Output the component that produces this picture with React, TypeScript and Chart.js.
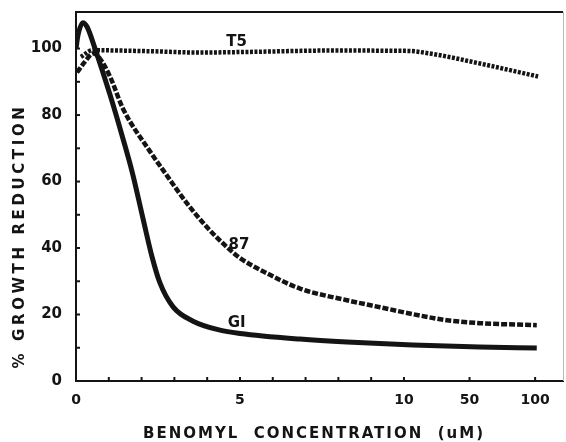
import React, { useEffect, useRef } from 'react';
import { Chart, registerables } from 'chart.js';
Chart.register(...registerables);

// x values are axis positions: 0..10 uM linear, then 50 uM at 12 and 100 uM at 14 (broken axis)
const xTickPos = [0, 1, 2, 3, 4, 5, 6, 7, 8, 9, 10, 12, 14];
const xTickLabels = ['0', '', '', '', '', '5', '', '', '', '', '10', '50', '100'];
const yTickValues = [0, 10, 20, 30, 40, 50, 60, 70, 80, 90, 100];
const yTickLabels = ['0', '', '20', '', '40', '', '60', '', '80', '', '100'];

const giX = [0, 0.06, 0.21, 0.34, 0.58, 1.04, 1.4, 1.71, 2.04, 2.32, 2.56, 2.96, 3.57, 4.39, 5.0, 6.83, 8.26, 10.27, 12.3, 14.05];
const giY = [100, 104, 107.8, 106.5, 100, 86, 74, 63, 49, 37.3, 29.5, 22.3, 18.0, 15.3, 14.3, 12.6, 11.7, 10.8, 10.2, 9.9];

const s87X = [0.03, 0.27, 0.52, 0.73, 1.04, 1.43, 2.26, 2.65, 3.38, 3.99, 4.6, 5.0, 5.82, 6.83, 8.26, 9.27, 10.27, 11.31, 12.32, 14.05];
const s87Y = [92.8, 96, 98.5, 97, 91.5, 82, 69, 63.5, 53.5, 46.3, 40.3, 37, 32.4, 27.8, 24.3, 22.2, 20.1, 18.3, 17.4, 16.8];

const t5X = [0.15, 0.5, 2.26, 3.78, 5.3, 7.74, 10.1, 10.8, 12.32, 14.09];
const t5Y = [97.5, 99.5, 99.2, 98.8, 99.0, 99.4, 99.3, 98.5, 95.5, 91.6];

const curveLabels = ['GI', '87', 'T5'];
const curveLabelX = [4.9, 4.97, 4.9];
const curveLabelY = [17.4, 40.9, 102];

const xTitle = 'BENOMYL  CONCENTRATION  (uM)';
const yTitle = '% GROWTH REDUCTION';

const INK = '#141414';
const FONT = '"DejaVu Sans", "Liberation Sans", sans-serif';

function pts(xs: number[], ys: number[]) {
  return xs.map((x, i) => ({ x, y: ys[i] }));
}

const decorPlugin = {
  id: 'decor',
  afterDraw(chart: any) {
    const { ctx, chartArea: a, scales } = chart;
    const xs = scales.x;
    const ys = scales.y;
    ctx.save();
    // top border
    ctx.strokeStyle = INK;
    ctx.lineWidth = 2;
    ctx.beginPath();
    ctx.moveTo(a.left, a.top);
    ctx.lineTo(a.right, a.top);
    ctx.stroke();
    // faint right border
    ctx.strokeStyle = '#b8b8b8';
    ctx.lineWidth = 1;
    ctx.beginPath();
    ctx.moveTo(a.right + 0.5, a.top);
    ctx.lineTo(a.right + 0.5, a.bottom);
    ctx.stroke();
    // inside ticks
    ctx.strokeStyle = INK;
    ctx.lineWidth = 2;
    xTickPos.forEach((v) => {
      if (v === 0) return;
      const px = xs.getPixelForValue(v);
      ctx.beginPath();
      ctx.moveTo(px, a.bottom);
      ctx.lineTo(px, a.bottom - 4);
      ctx.stroke();
    });
    yTickValues.forEach((v) => {
      if (v === 0) return;
      const py = ys.getPixelForValue(v);
      ctx.beginPath();
      ctx.moveTo(a.left - 1, py);
      ctx.lineTo(a.left + 4, py);
      ctx.stroke();
    });
    // curve labels
    ctx.fillStyle = INK;
    ctx.font = 'bold 15px ' + FONT;
    ctx.textAlign = 'center';
    ctx.textBaseline = 'middle';
    curveLabels.forEach((t, i) => {
      ctx.fillText(t, xs.getPixelForValue(curveLabelX[i]), ys.getPixelForValue(curveLabelY[i]));
    });
    // axis titles
    ctx.font = 'bold 15px ' + FONT;
    (ctx as any).letterSpacing = '2px';
    ctx.fillText(xTitle, 314, 434);
    (ctx as any).letterSpacing = '3.6px';
    ctx.translate(20, 236);
    ctx.rotate(-Math.PI / 2);
    ctx.fillText(yTitle, 0, 0);
    ctx.restore();
  },
};

export default function App() {
  const ref = useRef<HTMLCanvasElement>(null);
  useEffect(() => {
    const canvas = ref.current!;
    const chart = new Chart(canvas, {
      type: 'line',
      data: {
        datasets: [
          {
            label: 'GI',
            data: pts(giX, giY),
            borderColor: INK,
            borderWidth: 5,
            pointRadius: 0,
            cubicInterpolationMode: 'monotone',
          },
          {
            label: '87',
            data: pts(s87X, s87Y),
            borderColor: INK,
            borderWidth: 4.5,
            borderDash: [6, 2],
            borderCapStyle: 'butt',
            pointRadius: 0,
            cubicInterpolationMode: 'monotone',
          },
          {
            label: 'T5',
            data: pts(t5X, t5Y),
            borderColor: INK,
            borderWidth: 4.5,
            borderDash: [3, 1.5],
            borderCapStyle: 'butt',
            pointRadius: 0,
            cubicInterpolationMode: 'monotone',
          },
        ],
      },
      options: {
        animation: false,
        responsive: false,
        devicePixelRatio: 1,
        layout: { padding: { top: 12, right: 3, left: 0, bottom: 0 } },
        plugins: { legend: { display: false }, tooltip: { enabled: false }, title: { display: false } },
        scales: {
          x: {
            type: 'linear',
            min: 0,
            max: 14.85,
            grid: { display: false, drawTicks: false },
            border: { display: true, color: INK, width: 2 },
            afterBuildTicks: (s: any) => {
              s.ticks = xTickPos.map((v) => ({ value: v }));
            },
            afterFit: (s: any) => {
              s.height = 61;
              s.paddingLeft = 0;
              s.paddingRight = 0;
            },
            ticks: {
              autoSkip: false,
              maxRotation: 0,
              padding: 11,
              color: INK,
              font: { family: FONT, size: 14, weight: 'bold' },
              callback: (v: any) => {
                const i = xTickPos.indexOf(Number(v));
                return i >= 0 ? xTickLabels[i] : '';
              },
            },
          },
          y: {
            min: 0,
            max: 111,
            grid: { display: false, drawTicks: false },
            border: { display: true, color: INK, width: 2 },
            afterBuildTicks: (s: any) => {
              s.ticks = yTickValues.map((v) => ({ value: v }));
            },
            afterFit: (s: any) => {
              s.width = 76;
              s.paddingTop = 0;
              s.paddingBottom = 0;
            },
            ticks: {
              autoSkip: false,
              padding: 14,
              color: INK,
              font: { family: FONT, size: 15, weight: 'bold' },
              callback: (v: any) => {
                const i = yTickValues.indexOf(Number(v));
                return i >= 0 ? yTickLabels[i] : '';
              },
            },
          },
        },
      },
      plugins: [decorPlugin],
    } as any);
    return () => chart.destroy();
  }, []);
  return (
    <div style={{ position: 'fixed', left: 0, top: 0, width: 566, height: 442, background: '#fff' }}>
      <canvas ref={ref} width={566} height={442} style={{ display: 'block', width: 566, height: 442 }} />
    </div>
  );
}
